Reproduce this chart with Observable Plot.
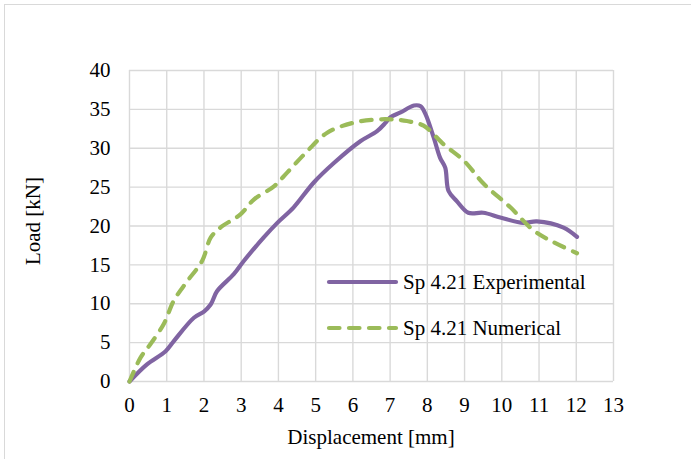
<!DOCTYPE html>
<html>
<head>
<meta charset="utf-8">
<script src="https://cdn.jsdelivr.net/npm/d3@7"></script>
<script src="https://cdn.jsdelivr.net/npm/@observablehq/plot@0.6"></script>
<style>
  html, body { margin: 0; padding: 0; background: #fff; }
  #wrap { position: relative; width: 691px; height: 459px; overflow: hidden; font-family: "Liberation Serif", "Times New Roman", serif; color: #000; }
  #border { position: absolute; left: 4px; top: 4px; width: 720px; height: 500px; border: 1.5px solid #d9d9d9; box-sizing: border-box; }
  #chart { position: absolute; left: 0; top: 0; }
  .lbl { position: absolute; font-size: 21px; white-space: nowrap; line-height: 1; }
  #xlab { left: 371px; top: 427px; transform: translateX(-50%); }
  #ylab { left: 33px; top: 221px; transform: translate(-50%, -50%) rotate(-90deg); }
  #legend { position: absolute; left: 320px; top: 262px; }
</style>
</head>
<body>
<div id="wrap">
  <div id="border"></div>
  <div id="chart"></div>
  <div class="lbl" id="xlab">Displacement [mm]</div>
  <div class="lbl" id="ylab">Load [kN]</div>
  <svg id="legend" width="300" height="90"></svg>
</div>
<script>
// Series names
const seriesNames = ["Sp 4.21 Experimental", "Sp 4.21 Numerical"];
const seriesColors = ["#8064A2", "#9BBB59"];

// Experimental curve (displacement mm, load kN)
const expX = [0, 0.47, 0.97, 1.19, 1.73, 2.0, 2.18, 2.35, 2.8, 3.07, 3.6, 3.97, 4.41, 4.95, 5.49, 6.2, 6.65, 6.88, 7.01, 7.28, 7.64, 7.82, 7.95, 8.17, 8.34, 8.48, 8.57, 8.79, 9.1, 9.5, 9.96, 10.58, 10.94, 11.66, 12.02];
const expY = [0, 2.2, 3.9, 5.2, 8.2, 9.0, 9.9, 11.6, 13.8, 15.5, 18.5, 20.4, 22.4, 25.6, 28.1, 30.9, 32.2, 33.3, 34.0, 34.6, 35.5, 35.4, 34.4, 31.4, 28.8, 27.5, 24.5, 23.2, 21.7, 21.7, 21.1, 20.4, 20.6, 19.8, 18.6];

// Numerical curve
const numX = [0, 0.3, 0.56, 0.92, 1.19, 1.55, 1.95, 2.18, 2.44, 2.98, 3.34, 3.88, 4.24, 4.77, 5.31, 6.03, 6.65, 7.1, 7.45, 7.9, 8.44, 8.98, 9.52, 10.23, 10.86, 11.4, 12.02];
const numY = [0, 3.1, 4.8, 7.4, 10.4, 12.9, 15.5, 18.5, 19.8, 21.5, 23.4, 25.1, 26.9, 29.6, 32.0, 33.3, 33.7, 33.7, 33.5, 32.9, 30.5, 28.4, 25.4, 22.4, 19.4, 17.9, 16.5];

// Tick values
const xTicks = [0,1,2,3,4,5,6,7,8,9,10,11,12,13];
const yTicks = [0,5,10,15,20,25,30,35,40];

const expData = expX.map((x, i) => ({x, y: expY[i]}));
const numData = numX.map((x, i) => ({x, y: numY[i]}));

const plot = Plot.plot({
  width: 691,
  height: 459,
  marginLeft: 129,
  marginRight: 78,
  marginTop: 70,
  marginBottom: 78,
  style: { fontFamily: '"Liberation Serif", "Times New Roman", serif', fontSize: "21px", background: "transparent", overflow: "visible" },
  x: { domain: [0, 13] },
  y: { domain: [0, 40] },
  marks: [
    Plot.gridX(xTicks, { stroke: "#d9d9d9", strokeOpacity: 1, strokeWidth: 1.4 }),
    Plot.gridY(yTicks, { stroke: "#d9d9d9", strokeOpacity: 1, strokeWidth: 1.4 }),
    Plot.axisX(xTicks, { tickSize: 0, tickPadding: 16, label: null, fill: "#000", fontSize: 21 }),
    Plot.axisY(yTicks, { tickSize: 0, tickPadding: 19, label: null, fill: "#000", fontSize: 21 }),
    Plot.line(expData, { x: "x", y: "y", stroke: seriesColors[0], strokeWidth: 4.2, curve: "catmull-rom", strokeLinecap: "round", strokeLinejoin: "round" }),
    Plot.line(numData, { x: "x", y: "y", stroke: seriesColors[1], strokeWidth: 4.2, curve: "catmull-rom", strokeDasharray: "10.5,9.5", strokeLinecap: "round", strokeLinejoin: "round" })
  ]
});
document.getElementById("chart").appendChild(plot);

// Legend
const leg = d3.select("#legend");
const rows = [
  { name: seriesNames[0], color: seriesColors[0], dash: null, cy: 20 },
  { name: seriesNames[1], color: seriesColors[1], dash: "10.5,9.5", cy: 66 }
];
rows.forEach(r => {
  leg.append("line").attr("x1", 9).attr("x2", 76).attr("y1", r.cy).attr("y2", r.cy)
    .attr("stroke", r.color).attr("stroke-width", 4.2).attr("stroke-linecap", "round")
    .attr("stroke-dasharray", r.dash);
  leg.append("text").attr("x", 83).attr("y", r.cy + 7)
    .attr("font-family", '"Liberation Serif", "Times New Roman", serif')
    .attr("font-size", 21).attr("fill", "#000").text(r.name);
});
</script>
</body>
</html>
